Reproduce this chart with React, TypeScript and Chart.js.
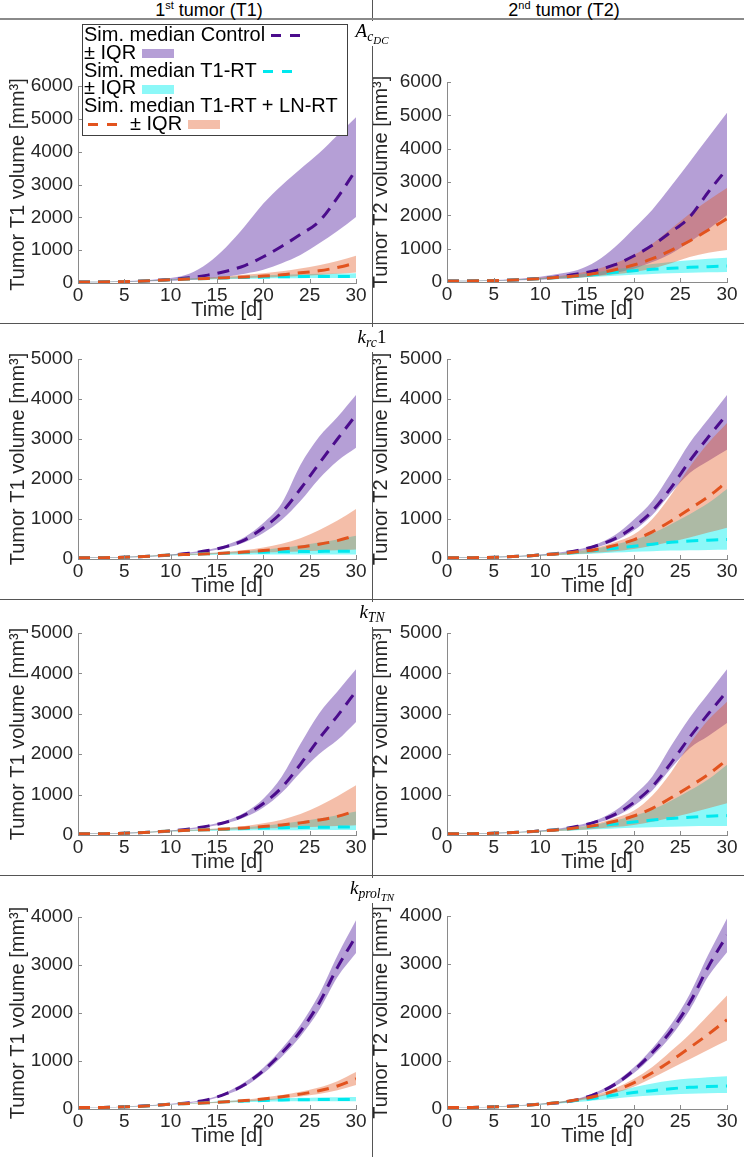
import React, { useEffect, useRef } from 'react';
import { Chart, registerables } from 'chart.js';

Chart.register(...registerables);

// ---------------- DATA ----------------
const DAYS = [0, 2, 4, 6, 8, 10, 12, 14, 16, 18, 20, 22, 24, 26, 28, 30];

// Row 1: A_cDC
const A_T1_CTRL_MED = [30, 30, 38, 50, 72, 105, 160, 240, 360, 530, 800, 1120, 1480, 1870, 2600, 3450];
const A_T1_CTRL_UP = [35, 35, 48, 65, 100, 150, 280, 600, 1100, 1730, 2420, 2980, 3470, 3950, 4500, 5050];
const A_T1_CTRL_LO = [25, 25, 30, 38, 50, 70, 95, 130, 190, 280, 400, 600, 850, 1200, 1580, 2010];
const A_T1_RT_MED = [30, 30, 38, 50, 70, 100, 120, 140, 155, 170, 180, 190, 195, 200, 200, 200];
const A_T1_RT_UP = [35, 35, 45, 60, 85, 110, 135, 160, 185, 210, 230, 250, 265, 280, 290, 300];
const A_T1_RT_LO = [25, 25, 32, 42, 60, 85, 100, 110, 120, 130, 140, 145, 148, 150, 150, 150];
const A_T1_LN_MED = [30, 30, 38, 50, 72, 100, 120, 140, 160, 185, 210, 250, 310, 370, 470, 610];
const A_T1_LN_UP = [35, 35, 45, 60, 85, 110, 135, 165, 200, 250, 300, 360, 440, 540, 670, 830];
const A_T1_LN_LO = [25, 25, 32, 42, 60, 85, 100, 115, 130, 145, 165, 190, 215, 245, 280, 320];

const A_T2_CTRL_MED = [30, 30, 38, 50, 75, 105, 160, 240, 350, 520, 780, 1100, 1500, 1950, 2700, 3400];
const A_T2_CTRL_UP = [35, 35, 48, 65, 105, 160, 250, 360, 620, 1050, 1600, 2170, 2870, 3600, 4340, 5075];
const A_T2_CTRL_LO = [25, 25, 30, 38, 50, 70, 95, 130, 190, 280, 400, 600, 850, 1200, 1580, 2000];
const A_T2_RT_MED = [30, 30, 38, 50, 72, 100, 135, 180, 230, 290, 340, 380, 410, 440, 460, 480];
const A_T2_RT_UP = [35, 35, 45, 60, 85, 115, 160, 220, 290, 380, 460, 540, 600, 650, 700, 730];
const A_T2_RT_LO = [25, 25, 32, 42, 60, 85, 105, 130, 160, 190, 215, 240, 260, 275, 290, 300];
const A_T2_LN_MED = [30, 30, 38, 50, 72, 100, 140, 190, 260, 370, 510, 700, 950, 1230, 1560, 1900];
const A_T2_LN_UP = [35, 35, 45, 60, 90, 125, 180, 260, 380, 560, 810, 1150, 1600, 2050, 2450, 2820];
const A_T2_LN_LO = [25, 25, 32, 42, 65, 85, 105, 130, 170, 230, 300, 400, 560, 750, 880, 960];

// Row 2: k_rc1
const R_T1_CTRL_MED = [30, 30, 38, 50, 70, 100, 145, 210, 310, 480, 780, 1170, 1750, 2380, 3000, 3600];
const R_T1_CTRL_UP = [35, 35, 45, 60, 80, 110, 160, 230, 350, 550, 900, 1400, 2350, 3050, 3550, 4100];
const R_T1_CTRL_LO = [25, 25, 32, 42, 65, 90, 130, 185, 280, 420, 650, 980, 1450, 2000, 2450, 2780];
const R_T1_RT_MED = [30, 30, 38, 50, 72, 100, 115, 130, 145, 160, 170, 180, 185, 190, 195, 195];
const R_T1_RT_UP = [35, 35, 45, 60, 85, 110, 130, 150, 170, 195, 230, 280, 340, 410, 490, 580];
const R_T1_RT_LO = [25, 25, 32, 42, 60, 85, 95, 100, 105, 108, 110, 110, 110, 110, 110, 110];
const R_T1_LN_MED = [30, 30, 38, 50, 72, 100, 115, 130, 150, 175, 210, 250, 300, 370, 460, 590];
const R_T1_LN_UP = [35, 35, 45, 60, 85, 110, 130, 150, 180, 225, 290, 380, 520, 720, 960, 1250];
const R_T1_LN_LO = [25, 25, 32, 42, 60, 85, 100, 115, 130, 145, 160, 175, 190, 205, 220, 240];

const R_T2_CTRL_MED = [30, 30, 38, 50, 70, 100, 145, 215, 330, 510, 800, 1200, 1780, 2450, 3050, 3620];
const R_T2_CTRL_UP = [35, 35, 45, 60, 80, 110, 160, 240, 370, 600, 980, 1450, 2150, 2900, 3500, 4100];
const R_T2_CTRL_LO = [25, 25, 32, 42, 65, 90, 130, 190, 290, 450, 710, 1100, 1650, 2150, 2450, 2730];
const R_T2_RT_MED = [30, 30, 38, 50, 70, 100, 130, 170, 220, 270, 320, 370, 420, 450, 470, 490];
const R_T2_RT_UP = [35, 35, 45, 60, 80, 105, 140, 190, 260, 360, 480, 640, 870, 1120, 1400, 1750];
const R_T2_RT_LO = [25, 25, 32, 42, 60, 80, 100, 120, 140, 160, 180, 195, 210, 220, 228, 233];
const R_T2_LN_MED = [30, 30, 38, 50, 70, 100, 130, 180, 240, 340, 480, 680, 950, 1250, 1560, 1930];
const R_T2_LN_UP = [35, 35, 45, 60, 80, 105, 140, 195, 280, 420, 610, 1000, 1600, 2300, 2900, 3400];
const R_T2_LN_LO = [25, 25, 32, 42, 60, 80, 100, 125, 155, 195, 250, 330, 430, 540, 660, 780];

// Row 3: k_TN
const N_T1_CTRL_MED = [30, 30, 38, 50, 70, 100, 150, 220, 320, 500, 780, 1180, 1750, 2380, 2950, 3560];
const N_T1_CTRL_UP = [35, 35, 45, 60, 80, 110, 165, 240, 360, 560, 900, 1450, 2250, 3000, 3550, 4100];
const N_T1_CTRL_LO = [25, 25, 32, 42, 65, 90, 135, 200, 290, 440, 680, 1050, 1550, 2000, 2350, 2800];
const N_T1_RT_MED = [30, 30, 38, 50, 72, 100, 115, 130, 145, 160, 172, 182, 188, 192, 195, 195];
const N_T1_RT_UP = [35, 35, 45, 60, 85, 110, 130, 150, 170, 195, 230, 280, 340, 410, 490, 580];
const N_T1_RT_LO = [25, 25, 32, 42, 60, 85, 95, 100, 105, 110, 115, 118, 120, 122, 124, 125];
const N_T1_LN_MED = [30, 30, 38, 50, 72, 100, 115, 130, 150, 175, 210, 250, 300, 370, 460, 600];
const N_T1_LN_UP = [35, 35, 45, 60, 85, 110, 130, 150, 180, 225, 290, 380, 520, 720, 960, 1230];
const N_T1_LN_LO = [25, 25, 32, 42, 60, 85, 100, 115, 130, 145, 160, 175, 190, 205, 220, 240];

const N_T2_CTRL_MED = [30, 30, 38, 50, 70, 100, 145, 215, 330, 510, 800, 1200, 1780, 2420, 3000, 3560];
const N_T2_CTRL_UP = [35, 35, 45, 60, 80, 110, 160, 240, 370, 600, 980, 1450, 2200, 2900, 3500, 4100];
const N_T2_CTRL_LO = [25, 25, 32, 42, 65, 90, 130, 190, 290, 450, 720, 1100, 1650, 2150, 2450, 2770];
const N_T2_RT_MED = [30, 30, 38, 50, 70, 100, 130, 170, 220, 270, 320, 370, 410, 440, 465, 480];
const N_T2_RT_UP = [35, 35, 45, 60, 80, 105, 140, 190, 260, 360, 470, 630, 850, 1100, 1380, 1740];
const N_T2_RT_LO = [25, 25, 32, 42, 60, 80, 100, 120, 140, 160, 178, 192, 205, 214, 220, 223];
const N_T2_LN_MED = [30, 30, 38, 50, 70, 100, 130, 180, 240, 340, 470, 660, 920, 1200, 1500, 1860];
const N_T2_LN_UP = [35, 35, 45, 60, 80, 105, 140, 195, 280, 420, 600, 980, 1550, 2250, 2850, 3300];
const N_T2_LN_LO = [25, 25, 32, 42, 60, 80, 100, 125, 155, 195, 250, 330, 430, 540, 660, 785];

// Row 4: k_prol_TN
const P_T1_CTRL_MED = [30, 30, 40, 55, 75, 100, 130, 195, 320, 510, 800, 1170, 1620, 2200, 2950, 3600];
const P_T1_CTRL_UP = [32, 32, 43, 60, 82, 110, 145, 215, 350, 560, 860, 1260, 1750, 2380, 3200, 3930];
const P_T1_CTRL_LO = [28, 28, 37, 50, 70, 92, 120, 180, 295, 470, 740, 1090, 1510, 2050, 2750, 3250];
const P_T1_RT_MED = [30, 30, 38, 50, 72, 100, 115, 130, 150, 165, 178, 188, 193, 197, 200, 200];
const P_T1_RT_UP = [32, 32, 42, 55, 80, 105, 122, 140, 165, 185, 205, 220, 232, 240, 245, 250];
const P_T1_RT_LO = [28, 28, 35, 46, 66, 95, 108, 120, 135, 145, 152, 157, 160, 162, 163, 163];
const P_T1_LN_MED = [30, 30, 38, 50, 72, 100, 115, 130, 150, 175, 210, 255, 310, 380, 480, 630];
const P_T1_LN_UP = [32, 32, 42, 55, 80, 105, 122, 140, 165, 195, 240, 290, 360, 450, 580, 770];
const P_T1_LN_LO = [28, 28, 35, 46, 66, 95, 108, 120, 135, 155, 180, 215, 260, 310, 390, 500];

const P_T2_CTRL_MED = [30, 30, 40, 55, 75, 100, 130, 195, 320, 510, 800, 1170, 1620, 2200, 2950, 3600];
const P_T2_CTRL_UP = [32, 32, 43, 60, 82, 110, 145, 215, 350, 560, 860, 1260, 1750, 2380, 3200, 3950];
const P_T2_CTRL_LO = [28, 28, 37, 50, 70, 92, 120, 180, 295, 470, 740, 1090, 1510, 2050, 2750, 3250];
const P_T2_RT_MED = [30, 30, 38, 50, 70, 100, 135, 180, 230, 290, 340, 380, 420, 450, 465, 475];
const P_T2_RT_UP = [32, 32, 42, 55, 78, 110, 150, 200, 270, 360, 450, 530, 590, 630, 660, 680];
const P_T2_RT_LO = [28, 28, 35, 46, 65, 90, 115, 145, 180, 220, 255, 280, 300, 315, 325, 330];
const P_T2_LN_MED = [30, 30, 38, 50, 70, 100, 135, 190, 270, 380, 540, 750, 1000, 1270, 1550, 1850];
const P_T2_LN_UP = [32, 32, 42, 55, 78, 110, 150, 210, 300, 430, 620, 870, 1200, 1550, 1950, 2350];
const P_T2_LN_LO = [28, 28, 35, 46, 65, 92, 120, 170, 240, 330, 460, 640, 840, 1030, 1230, 1420];

const Y_MAX = [6000, 5000, 5000, 4000];
const Y_LABELS = ['Tumor T1 volume [mm³]', 'Tumor T2 volume [mm³]'];
const X_LABEL = '\u2002\u2002Time [d]';
const HEADERS = ['tumor (T1)', 'tumor (T2)'];
const LEGEND_TEXT = ['Sim. median Control', '± IQR', 'Sim. median T1-RT', '± IQR', 'Sim. median T1-RT + LN-RT', '± IQR'];

// ---------------- STYLE ----------------
const SANS = '"Liberation Sans", Arial, sans-serif';
const SERIF = '"Liberation Serif", "DejaVu Serif", serif';
const TXT = '#262626';
const AXIS = '#8a8a8a';
const C_CTRL = '#4b0c8c';
const C_RT = '#00e8ee';
const C_LN = '#e2531e';
const B_CTRL = 'rgba(120,80,180,0.55)';
const B_RT = 'rgba(0,240,240,0.45)';
const B_LN = 'rgba(226,83,30,0.38)';

type Series = { med: number[]; up: number[]; lo: number[] };
type PanelDef = { row: number; side: number; ctrl: Series; rt: Series; ln: Series };

const PANELS: PanelDef[] = [
  { row: 0, side: 0, ctrl: { med: A_T1_CTRL_MED, up: A_T1_CTRL_UP, lo: A_T1_CTRL_LO }, rt: { med: A_T1_RT_MED, up: A_T1_RT_UP, lo: A_T1_RT_LO }, ln: { med: A_T1_LN_MED, up: A_T1_LN_UP, lo: A_T1_LN_LO } },
  { row: 0, side: 1, ctrl: { med: A_T2_CTRL_MED, up: A_T2_CTRL_UP, lo: A_T2_CTRL_LO }, rt: { med: A_T2_RT_MED, up: A_T2_RT_UP, lo: A_T2_RT_LO }, ln: { med: A_T2_LN_MED, up: A_T2_LN_UP, lo: A_T2_LN_LO } },
  { row: 1, side: 0, ctrl: { med: R_T1_CTRL_MED, up: R_T1_CTRL_UP, lo: R_T1_CTRL_LO }, rt: { med: R_T1_RT_MED, up: R_T1_RT_UP, lo: R_T1_RT_LO }, ln: { med: R_T1_LN_MED, up: R_T1_LN_UP, lo: R_T1_LN_LO } },
  { row: 1, side: 1, ctrl: { med: R_T2_CTRL_MED, up: R_T2_CTRL_UP, lo: R_T2_CTRL_LO }, rt: { med: R_T2_RT_MED, up: R_T2_RT_UP, lo: R_T2_RT_LO }, ln: { med: R_T2_LN_MED, up: R_T2_LN_UP, lo: R_T2_LN_LO } },
  { row: 2, side: 0, ctrl: { med: N_T1_CTRL_MED, up: N_T1_CTRL_UP, lo: N_T1_CTRL_LO }, rt: { med: N_T1_RT_MED, up: N_T1_RT_UP, lo: N_T1_RT_LO }, ln: { med: N_T1_LN_MED, up: N_T1_LN_UP, lo: N_T1_LN_LO } },
  { row: 2, side: 1, ctrl: { med: N_T2_CTRL_MED, up: N_T2_CTRL_UP, lo: N_T2_CTRL_LO }, rt: { med: N_T2_RT_MED, up: N_T2_RT_UP, lo: N_T2_RT_LO }, ln: { med: N_T2_LN_MED, up: N_T2_LN_UP, lo: N_T2_LN_LO } },
  { row: 3, side: 0, ctrl: { med: P_T1_CTRL_MED, up: P_T1_CTRL_UP, lo: P_T1_CTRL_LO }, rt: { med: P_T1_RT_MED, up: P_T1_RT_UP, lo: P_T1_RT_LO }, ln: { med: P_T1_LN_MED, up: P_T1_LN_UP, lo: P_T1_LN_LO } },
  { row: 3, side: 1, ctrl: { med: P_T2_CTRL_MED, up: P_T2_CTRL_UP, lo: P_T2_CTRL_LO }, rt: { med: P_T2_RT_MED, up: P_T2_RT_UP, lo: P_T2_RT_LO }, ln: { med: P_T2_LN_MED, up: P_T2_LN_UP, lo: P_T2_LN_LO } },
];

// layout geometry (page pixels)
const ROW_BOX = [
  { top: 20, bottom: 322, plotTop: [86, 82], plotBottom: [283, 282] },
  { top: 325, bottom: 598, plotTop: [359, 359], plotBottom: [559, 559] },
  { top: 601, bottom: 874, plotTop: [633, 633], plotBottom: [835, 835] },
  { top: 877, bottom: 1157, plotTop: [917, 916], plotBottom: [1109, 1109] },
];
const SIDE_BOX = [
  { left: 0, width: 372, axisX: 78, plotRight: 356, titlePad: 8 },
  { left: 373, width: 371, axisX: 447, plotRight: 727, titlePad: -2 },
];

const inwardTicks = {
  id: 'inwardTicks',
  afterDatasetsDraw(chart: any) {
    const { ctx, chartArea: a, scales } = chart;
    ctx.save();
    ctx.strokeStyle = AXIS;
    ctx.lineWidth = 1;
    const xs = scales.x;
    xs.ticks.forEach((t: any) => {
      const px = Math.round(xs.getPixelForValue(t.value)) + 0.5;
      ctx.beginPath();
      ctx.moveTo(px, a.bottom);
      ctx.lineTo(px, a.bottom - 4);
      ctx.stroke();
    });
    const ys = scales.y;
    ys.ticks.forEach((t: any) => {
      const py = Math.round(ys.getPixelForValue(t.value)) + 0.5;
      ctx.beginPath();
      ctx.moveTo(a.left, py);
      ctx.lineTo(a.left + 4, py);
      ctx.stroke();
    });
    ctx.restore();
  },
};

function pts(arr: number[]) {
  return DAYS.map((d, i) => ({ x: d, y: arr[i] }));
}

function Panel({ def }: { def: PanelDef }) {
  const ref = useRef<HTMLCanvasElement | null>(null);
  const rb = ROW_BOX[def.row];
  const sb = SIDE_BOX[def.side];
  const h = rb.bottom - rb.top;
  const w = sb.width;
  useEffect(() => {
    const line = (data: number[], color: string) => ({
      data: pts(data), borderColor: color, borderWidth: 3, borderDash: [12, 8],
      pointRadius: 0, fill: false, cubicInterpolationMode: 'monotone',
    });
    const edge = (data: number[]) => ({
      data: pts(data), borderColor: 'transparent', borderWidth: 0,
      pointRadius: 0, fill: false, cubicInterpolationMode: 'monotone',
    });
    const upper = (data: number[], bg: string, target: number) => ({
      data: pts(data), borderColor: 'transparent', borderWidth: 0, backgroundColor: bg,
      pointRadius: 0, fill: target, cubicInterpolationMode: 'monotone',
    });
    const plotTop = rb.plotTop[def.side];
    const plotBottom = rb.plotBottom[def.side];
    const xH = rb.bottom - plotBottom;
    const yW = sb.axisX - sb.left;
    const chart = new Chart(ref.current as HTMLCanvasElement, {
      type: 'line',
      data: {
        datasets: [
          line(def.ln.med, C_LN),
          line(def.rt.med, C_RT),
          line(def.ctrl.med, C_CTRL),
          upper(def.ln.up, B_LN, 4),
          edge(def.ln.lo),
          upper(def.rt.up, B_RT, 6),
          edge(def.rt.lo),
          upper(def.ctrl.up, B_CTRL, 8),
          edge(def.ctrl.lo),
        ] as any,
      },
      options: {
        responsive: false,
        animation: false,
        devicePixelRatio: 1,
        layout: { padding: { top: plotTop - rb.top, right: sb.left + sb.width - sb.plotRight, left: 0, bottom: 0 } },
        plugins: { legend: { display: false }, tooltip: { enabled: false } },
        scales: {
          x: {
            type: 'linear', min: 0, max: 30,
            grid: { display: false, drawTicks: false },
            border: { display: true, color: AXIS, width: 1 },
            ticks: { stepSize: 5, padding: 3, color: TXT, maxRotation: 0, autoSkip: false, font: { family: SANS, size: 19, lineHeight: 1 },
              callback: (v: any) => String(v) },
            title: { display: true, text: X_LABEL, color: TXT, font: { family: SANS, size: 20, lineHeight: 1 }, padding: { top: 0, bottom: xH - 10 - 27 } },
            afterFit: (s: any) => { s.height = xH; },
          },
          y: {
            type: 'linear', min: 0, max: Y_MAX[def.row],
            grid: { display: false, drawTicks: false },
            border: { display: true, color: AXIS, width: 1 },
            ticks: { stepSize: 1000, padding: 5, color: TXT, font: { family: SANS, size: 19, lineHeight: 1 },
              callback: (v: any) => String(v) },
            title: { display: true, text: Y_LABELS[def.side], color: TXT, font: { family: SANS, size: 20, lineHeight: 1 }, padding: { top: sb.titlePad, bottom: 0 } },
            afterFit: (s: any) => { s.width = yW; },
          },
        },
      } as any,
      plugins: [inwardTicks],
    });
    return () => chart.destroy();
  }, []);
  return (
    <canvas
      ref={ref}
      width={w}
      height={h}
      style={{ position: 'absolute', left: sb.left, top: rb.top, width: w, height: h }}
    />
  );
}

function Dash({ color }: { color: string }) {
  return (
    <span style={{ display: 'inline-block', width: 32, height: 3, verticalAlign: 'middle', marginLeft: 6,
      background: `repeating-linear-gradient(90deg, ${color} 0 10px, transparent 10px 19px)` }} />
  );
}
function Swatch({ color }: { color: string }) {
  return <span style={{ display: 'inline-block', width: 32, height: 9, verticalAlign: 'middle', marginLeft: 6, background: color }} />;
}

function Legend() {
  const lineStyle: React.CSSProperties = { height: 17.8, lineHeight: '17.8px', whiteSpace: 'nowrap' };
  return (
    <div style={{ position: 'absolute', left: 82, top: 24, width: 263, height: 109, border: '1px solid #404040', background: '#fff',
      fontFamily: SANS, fontSize: 20, color: '#000', padding: '1px 0 0 1px', boxSizing: 'content-box', zIndex: 5 }}>
      <div style={lineStyle}>{LEGEND_TEXT[0]}<Dash color={C_CTRL} /></div>
      <div style={lineStyle}>{LEGEND_TEXT[1]}<Swatch color={B_CTRL} /></div>
      <div style={lineStyle}>{LEGEND_TEXT[2]}<Dash color={C_RT} /></div>
      <div style={lineStyle}>{LEGEND_TEXT[3]}<Swatch color={B_RT} /></div>
      <div style={lineStyle}>{LEGEND_TEXT[4]}</div>
      <div style={lineStyle}>
        <span style={{ display: 'inline-block', width: 34, height: 3, verticalAlign: 'middle', marginLeft: 4, marginRight: 8,
          background: `repeating-linear-gradient(90deg, ${C_LN} 0 10px, transparent 10px 19px)` }} />
        {LEGEND_TEXT[5]}<Swatch color={B_LN} />
      </div>
    </div>
  );
}

function RowTitle({ top, children }: { top: number; children: React.ReactNode }) {
  return (
    <div style={{ position: 'absolute', left: 372, top, transform: 'translateX(-50%)', background: '#fff',
      padding: '0 4px 5px 4px', fontFamily: SERIF, fontSize: 19, lineHeight: '20px', color: '#000', whiteSpace: 'nowrap', zIndex: 4 }}>
      {children}
    </div>
  );
}

const subS: React.CSSProperties = { fontSize: '0.72em', verticalAlign: '-0.3em', fontStyle: 'italic', lineHeight: 0 };

export default function App() {
  useEffect(() => {
    document.body.style.margin = '0';
  }, []);
  return (
    <div style={{ position: 'absolute', left: 0, top: 0, width: 744, height: 1157, background: '#fff', overflow: 'hidden' }}>
      {/* dividers */}
      <div style={{ position: 'absolute', left: 372, top: 0, width: 1, height: 1157, background: '#555' }} />
      <div style={{ position: 'absolute', left: 0, top: 18, width: 744, height: 2, background: '#8a8a8a' }} />
      <div style={{ position: 'absolute', left: 0, top: 323, width: 744, height: 1, background: '#555' }} />
      <div style={{ position: 'absolute', left: 0, top: 599, width: 744, height: 1, background: '#555' }} />
      <div style={{ position: 'absolute', left: 0, top: 875, width: 744, height: 1, background: '#555' }} />

      {/* headers */}
      <div style={{ position: 'absolute', left: 209, top: 0, transform: 'translateX(-50%)', fontFamily: SANS, fontSize: 18, lineHeight: '20px', whiteSpace: 'nowrap', color: '#000' }}>
        1<span style={{ fontSize: 11, position: 'relative', top: -7 }}>st</span> {HEADERS[0]}
      </div>
      <div style={{ position: 'absolute', left: 564, top: 0, transform: 'translateX(-50%)', fontFamily: SANS, fontSize: 18, lineHeight: '20px', whiteSpace: 'nowrap', color: '#000' }}>
        2<span style={{ fontSize: 11, position: 'relative', top: -7 }}>nd</span> {HEADERS[1]}
      </div>

      {PANELS.map((p, i) => <Panel key={i} def={p} />)}

      {/* row titles */}
      <RowTitle top={21}>
        <i>A</i><span style={subS}>c<span style={{ ...subS, fontSize: '0.8em' }}>DC</span></span>
      </RowTitle>
      <RowTitle top={327}>
        <i>k</i><span style={subS}>rc</span>1
      </RowTitle>
      <RowTitle top={602}>
        <i>k</i><span style={subS}>TN</span>
      </RowTitle>
      <RowTitle top={878}>
        <i>k</i><span style={subS}>prol<span style={{ ...subS, fontSize: '0.8em' }}>TN</span></span>
      </RowTitle>

      <Legend />
    </div>
  );
}
